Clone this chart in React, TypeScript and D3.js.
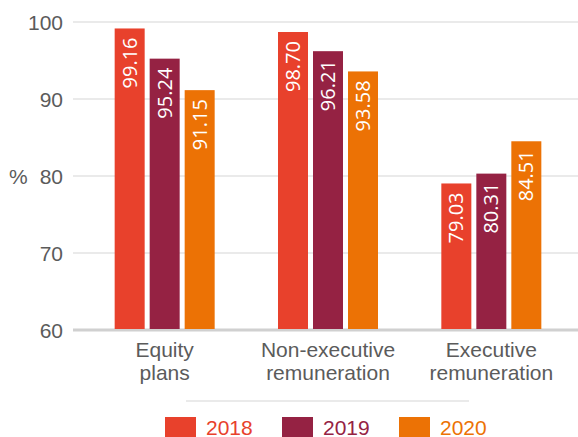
import * as d3 from "d3";

const categories = [["Equity", "plans"], ["Non-executive", "remuneration"], ["Executive", "remuneration"]];
const years = ["2018", "2019", "2020"];
const values2018 = [99.16, 98.7, 79.03];
const values2019 = [95.24, 96.21, 80.31];
const values2020 = [91.15, 93.58, 84.51];
const yTicks = [60, 70, 80, 90, 100];
const colors = ["#e8412c", "#952243", "#ec7205"];

export default function App() {
  const width = 578;
  const height = 437;
  const series = [values2018, values2019, values2020];

  const x = d3
    .scaleBand<number>()
    .domain(categories.map((_, i) => i))
    .range([83, 573]);
  const y = d3.scaleLinear().domain([60, 100]).range([330, 22]);
  const barW = 30;
  const barStep = 35;
  const axisFont = "'Liberation Sans', Arial, sans-serif";
  const textColor = "#5b5b5b";

  return (
    <svg
      width={width}
      height={height}
      style={{ position: "absolute", left: 0, top: 0 }}
    >
      {yTicks.map((t) => (
        <g key={t}>
          <line
            x1={73}
            x2={578}
            y1={y(t)}
            y2={y(t)}
            stroke={t === 60 ? "#d0d0d0" : "#e3e3e3"}
            strokeWidth={t === 60 ? 3 : 1.5}
          />
          <text
            x={63}
            y={y(t)}
            textAnchor="end"
            dominantBaseline="central"
            fontFamily={axisFont}
            fontSize={21}
            fill={textColor}
          >
            {t}
          </text>
        </g>
      ))}
      <text
        x={9}
        y={y(80)}
        dominantBaseline="central"
        fontFamily={axisFont}
        fontSize={21}
        fill={textColor}
      >
        %
      </text>

      {categories.map((cat, i) => {
        const cx = (x(i) as number) + x.bandwidth() / 2;
        return (
          <g key={i}>
            {series.map((vals, s) => {
              const bx = cx + (s - 1) * barStep - barW / 2;
              const top = y(vals[i]);
              return (
                <g key={s}>
                  <rect
                    x={bx}
                    y={top}
                    width={barW}
                    height={y(60) - top - 1}
                    fill={colors[s]}
                  />
                  <text
                    transform={`translate(${bx + barW / 2 + 7}, ${top + 9}) rotate(-90)`}
                    textAnchor="end"
                    fontFamily="'Open Sans', sans-serif"
                    fontSize={20}
                    fill="#fff"
                  >
                    {vals[i].toFixed(2)}
                  </text>
                </g>
              );
            })}
            {cat.map((line, k) => (
              <text
                key={k}
                x={cx}
                y={357 + k * 23}
                textAnchor="middle"
                fontFamily={axisFont}
                fontSize={21}
                fill={textColor}
              >
                {line}
              </text>
            ))}
          </g>
        );
      })}

      <line x1={186} x2={469} y1={401} y2={401} stroke="#e3e3e3" strokeWidth={1.5} />
      {years.map((yr, i) => {
        const lx = 165 + i * 117;
        return (
          <g key={yr}>
            <rect x={lx} y={417} width={31} height={20} fill={colors[i]} />
            <text
              x={lx + 41}
              y={435}
              fontFamily={axisFont}
              fontSize={21}
              fill={colors[i]}
            >
              {yr}
            </text>
          </g>
        );
      })}
    </svg>
  );
}
